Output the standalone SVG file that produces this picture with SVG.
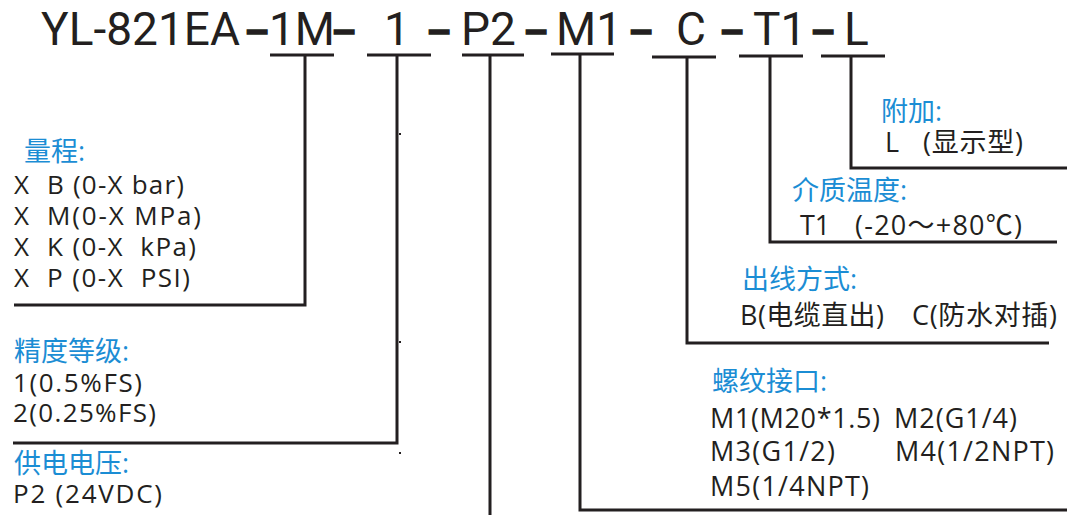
<svg xmlns="http://www.w3.org/2000/svg" width="1067" height="515" viewBox="0 0 1067 515">
<style>
text{font-family:"Open Sans","Noto Sans CJK SC",sans-serif;fill:#231f20;white-space:pre}
.t{font-family:Roboto,"Open Sans",sans-serif;font-size:46px}
.d{font-family:"Liberation Sans",sans-serif;font-weight:bold;font-size:40px;stroke:#231f20;stroke-width:1.3}
.h{font-size:27px;fill:#1b8dd4}
.v{font-size:26px}
.w{font-size:27px}
.ln{fill:none;stroke:#231f20;stroke-width:3}
</style>
<rect width="1067" height="515" fill="#fff"/>
<g id="title">
<text class="t" y="45"><tspan x="41" textLength="199">YL-821EA</tspan><tspan x="269">1M</tspan><tspan x="384">1</tspan><tspan x="461">P2</tspan><tspan x="556">M1</tspan><tspan x="676">C</tspan><tspan x="753">T1</tspan><tspan x="844">L</tspan></text>
<text class="d" y="43"><tspan x="246">–</tspan><tspan x="333">–</tspan><tspan x="428">–</tspan><tspan x="525">–</tspan><tspan x="630">–</tspan><tspan x="721">–</tspan><tspan x="812">–</tspan></text>
</g>
<g id="connectors" class="ln">
<path d="M270,55H334M305,55V305H14"/>
<path d="M367,55H431M397,55V443H13"/>
<path d="M462,55H524M490,55V515"/>
<path d="M551,54H614M580,54V510H1067"/>
<path d="M652,57H716M687,57V343H1049"/>
<path d="M739,56H803M770,56V242H1057"/>
<path d="M821,56H885M851,56V168H1067"/>
</g>
<g id="dots" fill="#231f20">
<rect x="399" y="133" width="2" height="2"/>
<rect x="399" y="341" width="2" height="2"/>
<rect x="399" y="452" width="2" height="2"/>
</g>
<g id="range">
<text class="v"><tspan class="h" x="24" y="161">量程:</tspan><tspan x="14" y="194">X</tspan><tspan x="47" y="194" textLength="137">B (0-X bar)</tspan><tspan x="14" y="225">X</tspan><tspan x="47" y="225" textLength="154">M(0-X MPa)</tspan><tspan x="14" y="256">X</tspan><tspan x="47" y="256" textLength="149">K (0-X  kPa)</tspan><tspan x="14" y="287">X</tspan><tspan x="47" y="287" textLength="143">P (0-X  PSI)</tspan></text>
</g>
<g id="accuracy">
<text class="v"><tspan class="h" x="14" y="361">精度等级:</tspan><tspan x="13" y="392" textLength="129">1(0.5%FS)</tspan><tspan x="13" y="422" textLength="143">2(0.25%FS)</tspan></text>
</g>
<g id="supply">
<text class="v"><tspan class="h" x="14" y="473">供电电压:</tspan><tspan x="13" y="503" textLength="149">P2 (24VDC)</tspan></text>
</g>
<g id="extra">
<text class="w"><tspan class="h" x="881" y="121">附加:</tspan><tspan x="885" y="152">L</tspan><tspan x="923" y="152" textLength="100">(显示型)</tspan></text>
</g>
<g id="temp">
<text class="w"><tspan class="h" x="792" y="200">介质温度:</tspan><tspan x="800" y="235">T1</tspan><tspan x="855" y="235" textLength="167">(-20～+80℃)</tspan></text>
</g>
<g id="wiring">
<text class="w"><tspan class="h" x="742" y="289">出线方式:</tspan><tspan x="740" y="325" textLength="144">B(电缆直出)</tspan><tspan x="912" y="325" textLength="145">C(防水对插)</tspan></text>
</g>
<g id="thread">
<text class="w"><tspan class="h" x="712" y="391">螺纹接口:</tspan><tspan x="710" y="428" textLength="170">M1(M20*1.5)</tspan><tspan x="894" y="428" textLength="123">M2(G1/4)</tspan><tspan x="710" y="461" textLength="125">M3(G1/2)</tspan><tspan x="895" y="461" textLength="159">M4(1/2NPT)</tspan><tspan x="710" y="496" textLength="159">M5(1/4NPT)</tspan></text>
</g>
</svg>
